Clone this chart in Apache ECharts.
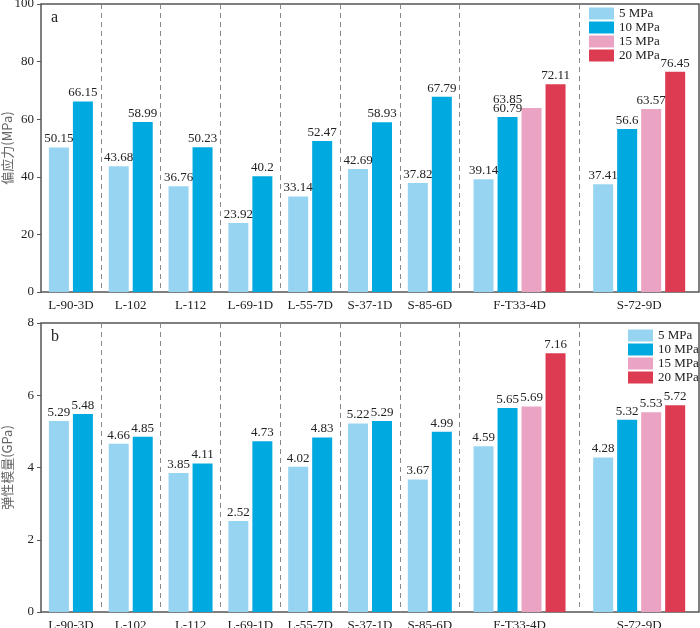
<!DOCTYPE html>
<html>
<head>
<meta charset="utf-8">
<script src="https://cdn.jsdelivr.net/npm/echarts@6/dist/echarts.min.js"></script>
<style>
html,body{margin:0;padding:0;background:#fff;}
#chart{width:700px;height:628px;}
</style>
</head>
<body>
<div id="chart"></div>
<script>
// 样品与围压
const categories = ["L-90-3D", "L-102", "L-112", "L-69-1D", "L-55-7D", "S-37-1D", "S-85-6D", "F-T33-4D", "S-72-9D"];
const pressures = ["5 MPa", "10 MPa", "15 MPa", "20 MPa"];
const colors = ["#97d4f1", "#00a9e0", "#eaa3c2", "#dc3b51"];

// a: 偏应力 (MPa)
const stress5 = [50.15, 43.68, 36.76, 23.92, 33.14, 42.69, 37.82, 39.14, 37.41];
const stress10 = [66.15, 58.99, 50.23, 40.2, 52.47, 58.93, 67.79, 60.79, 56.6];
const stress15 = [null, null, null, null, null, null, null, 63.85, 63.57];
const stress20 = [null, null, null, null, null, null, null, 72.11, 76.45];

// b: 弹性模量 (GPa)
const modulus5 = [5.29, 4.66, 3.85, 2.52, 4.02, 5.22, 3.67, 4.59, 4.28];
const modulus10 = [5.48, 4.85, 4.11, 4.73, 4.83, 5.29, 4.99, 5.65, 5.32];
const modulus15 = [null, null, null, null, null, null, null, 5.69, 5.53];
const modulus20 = [null, null, null, null, null, null, null, 7.16, 5.72];

const stressAxis = {min: 0, max: 100, interval: 20};
const modulusAxis = {min: 0, max: 8, interval: 2};

const serif = "Liberation Serif";
const cjk = "Noto Sans CJK SC";

const plotLeft = 41, plotRight = 1, plotWidth = 700 - plotLeft - plotRight;
const panels = [
    {top: 4, height: 288, letter: "a", name: "偏应力(MPa)", axis: stressAxis, values: [stress5, stress10, stress15, stress20], legend: [589, 7]},
    {top: 323, height: 289, letter: "b", name: "弹性模量(GPa)", axis: modulusAxis, values: [modulus5, modulus10, modulus15, modulus20], legend: [628, 329]}
];

// 4个围压的样品(放在最后)占两个单位宽度, 2个的占一个
const isWide = categories.map((c, i) => stress15[i] != null);
const narrowCats = categories.filter((c, i) => !isWide[i]);
const wideCats = categories.filter((c, i) => isWide[i]);
let slotKeys = [];
let labelAt = {};
let sepSet = new Set();
let unit = 0;
categories.forEach((c, i) => {
    let w = isWide[i] ? 2 : 1;
    for (let k = 0; k < w; k++) slotKeys.push(c + "#" + k);
    labelAt[2 * unit + w] = c;
    unit += w;
    if (i < categories.length - 1) sepSet.add(2 * unit);
});
let pointKeys = [];
for (let i = 0; i <= 2 * unit; i++) pointKeys.push("p" + i);
const unitW = plotWidth / unit;
const wideLeft = plotLeft + narrowCats.length * unitW;

let myChar = echarts.init(document.getElementById("chart"));

let grids = [], xAxes = [], yAxes = [], series = [], legends = [], graphics = [];

const barLabel = {show: true, position: "top", distance: 2, color: "#222", fontFamily: serif, fontSize: 13};

panels.forEach((pn, g) => {
    // 主坐标系: 边框, 纵轴, 样品标签与虚线分隔
    let gMain = grids.length;
    grids.push({left: plotLeft, right: plotRight, top: pn.top, height: pn.height, outerBoundsMode: "none", containLabel: false,
        show: true, borderColor: "#555", borderWidth: 1.5, backgroundColor: "transparent"});
    // 叠加坐标系: 4个围压的样品
    let gWide = grids.length;
    grids.push({left: wideLeft, right: plotRight, top: pn.top, height: pn.height, outerBoundsMode: "none", containLabel: false});

    xAxes.push({
        type: "category", gridIndex: gMain, position: "bottom", boundaryGap: false, data: pointKeys,
        axisLine: {show: false}, axisTick: {show: false},
        axisLabel: {interval: 0, margin: 7, color: "#222", fontFamily: serif, fontSize: 13, formatter: (v, idx) => labelAt[idx] || ""},
        splitLine: {show: true, interval: (idx) => sepSet.has(idx), lineStyle: {color: "#888", width: 1, type: [5, 4]}}
    });
    let xNarrow = xAxes.length;
    xAxes.push({type: "category", gridIndex: gMain, position: "top", data: slotKeys, show: false});
    let xWide = xAxes.length;
    xAxes.push({type: "category", gridIndex: gWide, position: "top", data: wideCats, show: false});

    let yMain = yAxes.length;
    yAxes.push({
        type: "value", gridIndex: gMain, min: pn.axis.min, max: pn.axis.max, interval: pn.axis.interval,
        name: pn.name, nameLocation: "middle", nameGap: 27, nameMoveOverlap: false,
        nameTextStyle: {color: "#666", fontFamily: cjk, fontSize: 13},
        axisLine: {show: false},
        axisTick: {show: true, inside: false, length: 4, lineStyle: {color: "#555", width: 1}},
        axisLabel: {margin: 7, color: "#222", fontFamily: serif, fontSize: 13},
        splitLine: {show: false}
    });
    let yWide = yAxes.length;
    yAxes.push({type: "value", gridIndex: gWide, min: pn.axis.min, max: pn.axis.max, interval: pn.axis.interval, show: false, splitLine: {show: false}});

    // 2个围压的样品
    [0, 1].forEach(p => {
        let data = [];
        categories.forEach((c, i) => {
            if (isWide[i]) { data.push(null); data.push(null); }
            else data.push(pn.values[p][i]);
        });
        series.push({name: pressures[p], type: "bar", xAxisIndex: xNarrow, yAxisIndex: yMain,
            barWidth: 20, barGap: "20%", itemStyle: {color: colors[p]}, label: barLabel, data: data});
    });
    // 4个围压的样品
    pressures.forEach((name, p) => {
        let data = categories.map((c, i) => pn.values[p][i]).filter((v, i) => isWide[i]);
        // 原图中 F-T33-4D 的 15 MPa 标注偏在 10 MPa 柱上方
        if (g === 0 && p === 2) data[0] = {value: data[0], label: {offset: [-24, 0]}};
        series.push({name: name, type: "bar", xAxisIndex: xWide, yAxisIndex: yWide,
            barWidth: 20, barGap: "20%", itemStyle: {color: colors[p]}, label: barLabel, data: data});
    });

    legends.push({
        orient: "vertical", left: pn.legend[0], top: pn.legend[1], icon: "rect",
        itemWidth: 25, itemHeight: 12, itemGap: 1, padding: 0,
        textStyle: {color: "#222", fontFamily: serif, fontSize: 13}, data: pressures
    });
    graphics.push({type: "text", left: 51, top: pn.top + 6, style: {text: pn.letter, fontFamily: serif, fontSize: 16, fill: "#222"}});
});

myChar.setOption({
    animation: false,
    grid: grids,
    legend: legends,
    xAxis: xAxes,
    yAxis: yAxes,
    graphic: graphics,
    series: series
});
</script>
</body>
</html>
